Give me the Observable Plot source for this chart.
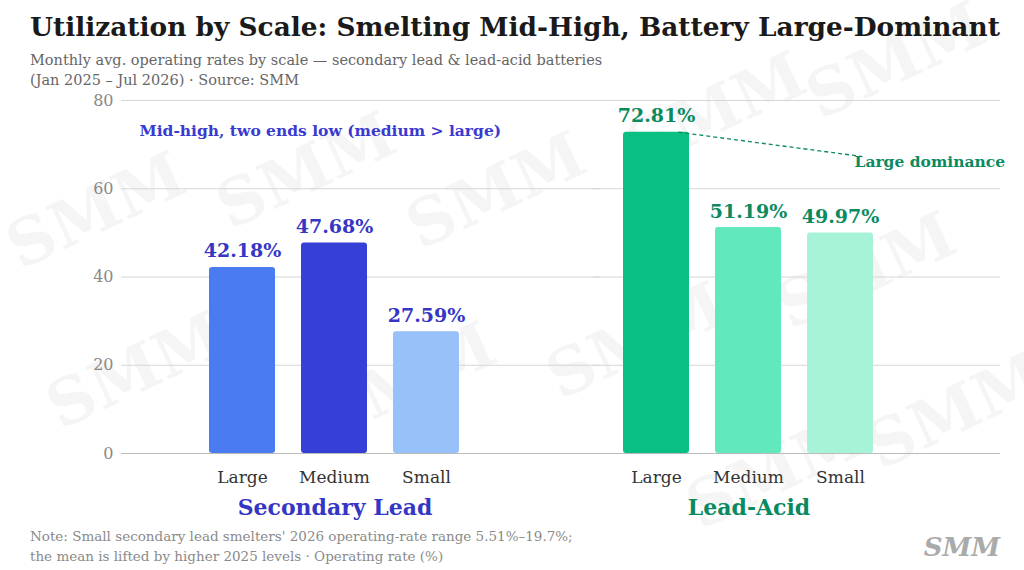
<!DOCTYPE html>
<html><head><meta charset="utf-8">
<script src="https://cdn.jsdelivr.net/npm/d3@7"></script>
<script src="https://cdn.jsdelivr.net/npm/@observablehq/plot@0.6"></script>
<style>
body{margin:0;background:#fff;font-family:"DejaVu Serif",serif;}
#wrap{position:relative;width:1024px;height:570px;overflow:hidden;}
#wm{position:absolute;left:0;top:0;}
h1{position:absolute;left:30px;top:11px;margin:0;font-size:26.4px;font-weight:bold;color:#1a1a1a;white-space:nowrap;}
.sub{position:absolute;left:30px;top:50px;font-size:14.5px;color:#666;line-height:20px}
#chart{position:absolute;left:0;top:90px}
.note{position:absolute;left:30px;top:526px;font-size:13.5px;color:#8a8a8a;line-height:20px}
.logo{position:absolute;right:24px;top:532px;font-size:26px;font-style:italic;font-weight:bold;color:#aaa}
</style></head>
<body><div id="wrap">
<svg id="wm" width="1024" height="570"></svg>
<h1>Utilization by Scale: Smelting Mid-High, Battery Large-Dominant</h1>
<div class="sub">Monthly avg. operating rates by scale — secondary lead &amp; lead-acid batteries<br>(Jan 2025 – Jul 2026) · Source: SMM</div>
<div id="chart"></div>
<div class="note">Note: Small secondary lead smelters' 2026 operating-rate range 5.51%–19.7%;<br>the mean is lifted by higher 2025 levels · Operating rate (%)</div>
<div class="logo">SMM</div>
</div>
<script>
const groups = ["Secondary Lead", "Lead-Acid"];
const scales = ["Large", "Medium", "Small"];
const secondaryLead = [42.18, 47.68, 27.59];
const leadAcid = [72.81, 51.19, 49.97];
const yTicks = [0, 20, 40, 60, 80];

const colors = {
  "Secondary Lead": ["#4a7bf0", "#3740d6", "#97c1f8"],
  "Lead-Acid": ["#0abf84", "#62e8bd", "#a6f3d8"]
};
const labelColor = {"Secondary Lead": "#3636c4", "Lead-Acid": "#0b8a5f"};

const data = [
  ...scales.map((s, i) => ({group: groups[0], scale: s, value: secondaryLead[i], color: colors[groups[0]][i]})),
  ...scales.map((s, i) => ({group: groups[1], scale: s, value: leadAcid[i], color: colors[groups[1]][i]}))
];

// watermark
const wm = d3.select("#wm");
[[20,270],[230,230],[420,250],[640,170],[820,120],[60,430],[330,440],[560,400],[790,330],[700,530],[880,470]].forEach(([x,y]) => {
  wm.append("text").attr("x", x).attr("y", y).attr("transform", `rotate(-25 ${x} ${y})`)
    .attr("font-size", 64).attr("font-weight", "bold").attr("font-family", "DejaVu Serif")
    .attr("fill", "#f5f5f5").text("SMM");
});

const left = groups.map(g => ({fx: g}));
const grid = groups.flatMap(g => yTicks.map(t => ({fx: g, y: t})));

const chart = Plot.plot({
  width: 1024,
  height: 440,
  marginTop: 10,
  marginBottom: 77,
  marginLeft: 120,
  marginRight: 62,
  style: {fontFamily: "DejaVu Serif", background: "transparent"},
  fx: {domain: groups, paddingInner: 0.25, paddingOuter: 0.14, axis: null},
  x: {domain: scales, padding: 0.28, paddingOuter: 0.321, axis: null},
  y: {domain: [0, 80], axis: null},
  marks: [
    Plot.ruleY(grid.filter(d => d.fx === groups[0]), {fx: "fx", y: "y", stroke: d => d.y === 0 ? "#bbb" : "#d6d6d6", strokeDasharray: d => d.y === 0 ? null : "6,4", insetLeft: -58, insetRight: -110}),
    Plot.ruleY(grid.filter(d => d.fx === groups[1]), {fx: "fx", y: "y", stroke: d => d.y === 0 ? "#bbb" : "#d6d6d6", strokeDasharray: d => d.y === 0 ? null : "6,4", insetLeft: 0, insetRight: -96}),
    Plot.text(grid.filter(d => d.fx === groups[0]), {fx: "fx", y: "y", text: "y", frameAnchor: "left", textAnchor: "end", dx: -66, fill: "#888", fontSize: 16}),
    Plot.barY(data, {fx: "group", x: "scale", y: "value", fill: "color", rx: 3}),
    Plot.text(data, {fx: "group", x: "scale", y: "value", text: d => d.value.toFixed(2) + "%", dy: -16, fill: d => labelColor[d.group], fontWeight: "bold", fontSize: 19}),
    Plot.text(data, {fx: "group", x: "scale", text: "scale", frameAnchor: "bottom", dy: 29, fill: "#333", fontSize: 17}),
    Plot.text(left, {fx: "fx", text: "fx", frameAnchor: "bottom", dy: 61, fill: d => labelColor[d.fx], fontWeight: "bold", fontSize: 22}),
    Plot.text(left.slice(0, 1), {fx: "fx", x: () => "Large", y: () => 73, text: () => "Mid-high, two ends low (medium > large)", textAnchor: "start", dx: -103, fill: "#3a3ad0", fontWeight: "bold", fontSize: 15.5}),
    Plot.link(left.slice(1), {fx: "fx", x1: () => "Large", y1: () => 72.81, x2: () => "Small", y2: () => 67.3, dx: 22, stroke: "#0b8a5f", strokeDasharray: "4,3", strokeWidth: 1.3}),
    Plot.text(left.slice(1), {fx: "fx", x: () => "Small", y: () => 66, text: () => "Large dominance", textAnchor: "start", dx: 14, fill: "#0b8a5f", fontWeight: "bold", fontSize: 15.5})
  ]
});
document.getElementById("chart").append(chart);
</script>
</body></html>
